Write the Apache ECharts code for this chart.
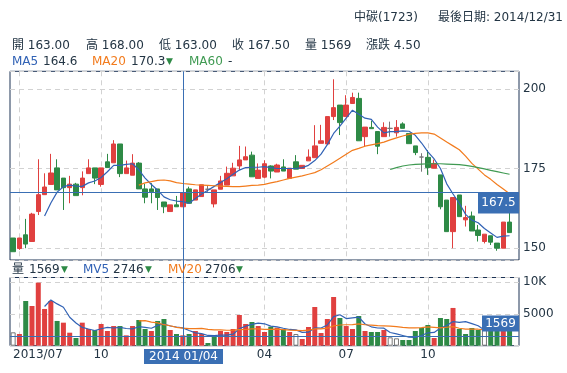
<!DOCTYPE html>
<html><head><meta charset="utf-8">
<script src="https://cdn.jsdelivr.net/npm/echarts@6/dist/echarts.min.js"></script>
<style>html,body{margin:0;padding:0;background:#fff}#c{width:567px;height:373px}</style>
</head><body><div id="c"></div>
<script>
// ---- data (weekly) ----
const dates = ['2013/06/29','2013/07/06','2013/07/13','2013/07/20','2013/07/27','2013/08/03','2013/08/10','2013/08/17','2013/08/24','2013/08/31',
'2013/09/07','2013/09/14','2013/09/21','2013/09/28','2013/10/05','2013/10/12','2013/10/19','2013/10/26','2013/11/02','2013/11/09',
'2013/11/16','2013/11/23','2013/11/30','2013/12/07','2013/12/14','2013/12/21','2013/12/28','2014/01/04','2014/01/11','2014/01/18',
'2014/01/25','2014/02/01','2014/02/08','2014/02/15','2014/02/22','2014/03/01','2014/03/08','2014/03/15','2014/03/22','2014/03/29',
'2014/04/05','2014/04/12','2014/04/19','2014/04/26','2014/05/03','2014/05/10','2014/05/17','2014/05/24','2014/05/31','2014/06/07',
'2014/06/14','2014/06/21','2014/06/28','2014/07/05','2014/07/12','2014/07/19','2014/07/26','2014/08/02','2014/08/09','2014/08/16',
'2014/08/23','2014/08/30','2014/09/06','2014/09/13','2014/09/20','2014/09/27','2014/10/04','2014/10/11','2014/10/18','2014/10/25',
'2014/11/01','2014/11/08','2014/11/15','2014/11/22','2014/11/29','2014/12/06','2014/12/13','2014/12/20','2014/12/27','2014/12/31','2015/01/10'];

const opens  = [153.2,149.9,154.2,152.1,161.5,166.8,170.0,175.2,172.0,169.0,170.1,169.0,173.4,175.2,170.0,177.1,176.8,182.7,173.4,172.9,
176.7,168.6,168.6,168.6,164.5,161.5,163.6,163.0,168.6,165.1,166.2,168.5,163.9,168.5,169.8,172.7,175.8,177.7,179.2,171.9,
172.3,175.8,173.9,175.5,171.9,177.1,175.0,177.4,178.4,182.9,182.7,191.3,194.9,191.3,195.4,197.0,185.0,187.9,186.6,185.0,
187.6,186.2,189.0,186.0,182.1,178.6,178.5,175.1,173.0,165.1,155.2,166.7,158.9,160.1,155.7,152.1,153.9,151.6,150.0,158.2];
const closes = [148.9,153.2,151.3,160.7,166.8,169.2,173.6,168.3,169.0,170.1,166.5,172.0,175.2,172.0,175.2,175.3,182.7,173.4,175.2,176.7,
168.6,166.0,167.7,165.9,163.0,163.6,163.0,167.4,164.1,168.3,169.9,168.5,168.3,171.1,173.5,175.1,177.7,178.7,172.4,174.5,
176.5,174.2,176.1,174.2,175.1,174.8,176.0,178.6,182.1,183.7,191.3,194.1,189.4,194.9,197.3,183.7,188.0,187.5,182.0,187.9,
187.6,187.9,187.6,182.8,180.0,178.6,175.3,176.6,163.0,155.2,165.9,159.9,159.6,155.4,154.0,154.4,151.9,150.0,158.2,154.9];
const lows   = [148.9,149.5,150.0,152.0,160.4,166.7,170.0,168.3,162.0,164.1,166.5,166.6,173.4,170.1,169.3,175.3,176.8,172.3,173.4,172.9,
168.6,164.1,164.1,162.0,161.0,161.5,163.0,163.0,164.1,165.1,166.2,167.7,162.8,168.5,169.8,172.7,174.5,177.7,172.4,171.9,
171.9,171.9,173.9,174.2,171.9,174.8,175.0,177.4,178.4,182.9,182.7,190.2,185.5,191.3,195.4,183.7,181.8,187.5,179.5,185.0,
185.0,185.0,187.6,182.8,179.2,174.0,173.0,175.1,162.2,155.2,150.0,159.9,156.8,155.4,152.1,151.5,151.0,149.2,150.0,154.9];
const highs  = [153.2,153.2,159.2,161.1,177.9,173.5,179.6,177.9,172.0,172.7,170.5,174.1,177.9,175.2,175.2,179.6,183.9,182.7,177.5,179.5,
177.0,170.2,170.4,168.6,164.5,163.6,166.4,167.4,169.3,168.3,169.9,169.5,168.3,172.7,175.6,176.8,182.1,181.9,180.3,176.6,
177.6,176.0,176.5,177.9,175.1,179.2,176.0,181.0,188.6,188.7,191.3,203.0,194.9,198.0,198.8,198.8,188.0,190.0,186.6,189.5,
189.7,190.2,189.5,186.0,182.1,179.8,180.8,177.8,173.0,165.1,165.9,166.7,163.3,161.5,157.3,154.4,153.9,151.6,158.2,161.2];

const volumes = [2110,1845,7050,6260,9940,5790,7050,3900,3630,2050,1215,3630,2630,2475,3420,2320,3100,3100,1630,3100,
4050,2630,2320,3900,4210,2475,1845,1630,1845,2320,1845,425,1530,2320,2160,2630,4840,3420,3740,3100,
2160,3000,2840,2630,2160,1845,1055,2950,6100,2000,4210,7680,4370,3100,2630,4680,2320,2160,2160,2475,
1320,1160,900,900,2320,2790,3260,1215,4370,4210,5950,2630,1845,2790,2475,2600,2800,3000,3300,2700];
// u = up (red), d = down (green), n = unchanged (hollow)
const volDir = ['n','u','d','u','u','u','u','d','u','u','d','u','u','d','u','u','u','d','u','u',
'd','d','u','d','d','u','d','u','d','u','u','d','d','u','u','u','u','u','d','u',
'u','d','u','d','u','n','u','u','u','u','u','u','d','u','u','d','u','d','d','u',
'n','n','d','d','d','d','d','u','d','d','u','d','d','d','d','n','d','d','u','d'];

const ma5 = [null,null,null,null,null,160.1,164.2,167.6,169.3,169.8,169.5,169.4,170.5,171.1,172.2,174.0,176.0,176.0,176.3,176.5,
174.6,172.0,170.0,168.2,166.1,165.2,164.8,164.6,164.1,165.6,167.0,168.2,169.4,170.6,171.8,173.2,174.5,175.3,175.4,175.4,
175.6,175.3,175.0,175.0,175.0,175.0,175.3,176.0,177.5,179.5,182.5,186.0,188.3,190.8,193.3,192.0,190.8,190.4,188.0,186.2,
186.6,186.6,186.8,186.7,185.4,183.0,180.2,178.0,175.0,170.2,167.0,164.1,160.6,158.8,158.0,156.2,154.8,153.4,153.8,153.9];
const ma20 = [null,null,null,null,null,null,null,null,null,null,null,null,null,null,null,null,null,null,null,null,
169.8,170.5,170.9,171.3,171.4,171.1,170.6,170.3,170.1,169.9,169.8,169.7,169.6,169.5,169.4,169.3,169.3,169.5,169.7,169.8,
170.0,170.5,170.9,171.4,171.9,172.3,172.7,173.2,173.7,174.6,175.8,177.0,178.2,179.5,180.7,181.3,182.0,182.4,182.8,183.3,
184.0,184.6,185.2,185.7,186.0,186.2,186.2,185.8,184.6,183.3,182.1,180.9,178.9,176.6,174.8,173.0,171.6,170.0,168.6,167.1];
const ma60 = [null,null,null,null,null,null,null,null,null,null,null,null,null,null,null,null,null,null,null,null,
null,null,null,null,null,null,null,null,null,null,null,null,null,null,null,null,null,null,null,null,
null,null,null,null,null,null,null,null,null,null,null,null,null,null,null,null,null,null,null,null,
174.7,175.3,175.8,176.1,176.3,176.4,176.5,176.5,176.5,176.4,176.3,176.2,176.0,175.7,175.3,174.9,174.4,174.0,173.6,173.2];
const mv5 = [null,null,null,null,null,6177,7218,6588,6062,4484,3569,2885,2631,2400,2674,2895,2789,2883,2714,2650,
2996,2902,2746,3200,3422,3107,2950,2812,2401,2023,1897,1613,1593,1688,1656,1813,2696,3074,3358,3546,
3452,3084,2968,2746,2558,2495,2106,2128,2822,2790,3263,4588,4872,4272,4398,4492,3420,2978,2790,2759,
2087,1855,1603,1351,1320,1614,2034,2097,2791,3169,3801,3675,3801,3485,3138,2468,2502,2733,2835,2880];
const mv20 = [null,null,null,null,null,null,null,null,null,null,null,null,null,null,null,null,null,null,null,null,
3909,3949,3712,3594,3308,3142,2882,2768,2679,2692,2724,2564,2509,2501,2438,2453,2540,2556,2662,2662,
2567,2586,2612,2548,2446,2414,2375,2441,2654,2638,2756,3119,3261,3300,3323,3426,3300,3237,3158,3126,
3084,2992,2895,2809,2817,2864,2974,2888,2801,2912,2999,2746,2620,2604,2597,2493,2517,2559,2616,2627];

const tickIdx  = [1, 14, 27, 40, 53, 66];
const tickText = ['2013/07', '10', '01', '04', '07', '10'];
const crossIdx = 27, crossPrice = 167.5, crossVol = 1569, crossDateText = '2014 01/04';

// ---- style ----
const FONT = '"DejaVu Sans","Noto Sans CJK TC",sans-serif';
const TXT = '#233544', RED = '#e0403f', GREEN = '#2e8a46', GRAY = '#777777';
const BLUE = '#3162b5', ORANGE = '#f27b1d', MGREEN = '#3f9a52', XBLUE = '#3a6fb4';
const BORDER = '#1c3355', GRID = '#d2d2d2';
const G0 = {left: 10, top: 71.3, width: 509, height: 188.7};
const G1 = {left: 10, top: 277.5, width: 509, height: 68.2};

const candles = opens.map((o, i) => [o, closes[i], lows[i], highs[i]]);
const volData = volumes.map((v, i) => ({
  value: v,
  itemStyle: volDir[i] === 'u' ? {color: RED} : volDir[i] === 'd' ? {color: GREEN}
           : {color: '#ffffff', borderColor: GRAY, borderWidth: 1}
}));

const isTick = (i) => tickIdx.indexOf(i) >= 0;
const dash = {color: GRID, type: [5, 4], width: 1};

const chart = echarts.init(document.getElementById('c'));
const option = {
  animation: false,
  backgroundColor: '#ffffff',
  textStyle: {fontFamily: FONT},
  grid: [
    Object.assign({show: true, borderColor: BORDER, borderWidth: 1, backgroundColor: 'transparent'}, G0),
    Object.assign({show: true, borderColor: BORDER, borderWidth: 1, backgroundColor: 'transparent'}, G1)
  ],
  xAxis: [
    {gridIndex: 0, type: 'category', data: dates, boundaryGap: true,
     axisLine: {show: false}, axisTick: {show: false}, axisLabel: {show: false},
     splitLine: {show: true, interval: isTick, alignWithLabel: true, lineStyle: dash}},
    {gridIndex: 1, type: 'category', data: dates, boundaryGap: true,
     axisLine: {show: false}, axisTick: {show: false},
     axisLabel: {show: true, interval: isTick, color: TXT, fontSize: 12, fontFamily: FONT, margin: 3,
       formatter: (v, i) => {
         const k = tickIdx.indexOf(i);
         if (k < 0) return '';
         return k === 0 ? '{a|' + tickText[k] + '}' : tickText[k];
       },
       rich: {a: {color: TXT, fontSize: 12, fontFamily: FONT, padding: [0, 0, 0, 37]}}},
     splitLine: {show: true, interval: isTick, alignWithLabel: true, lineStyle: dash}}
  ],
  yAxis: [
    {gridIndex: 0, type: 'value', position: 'right', min: 146.3, max: 205.5, minInterval: 25, maxInterval: 25,
     axisLine: {show: false}, axisTick: {show: false},
     axisLabel: {color: TXT, fontSize: 12, fontFamily: FONT, margin: 4, showMinLabel: false, showMaxLabel: false,
       formatter: v => (Math.abs(v % 25) < 1e-6 ? String(v) : '')},
     splitLine: {show: true, lineStyle: dash}},
    {gridIndex: 1, type: 'value', position: 'right', min: 0, max: 10750, minInterval: 5000, maxInterval: 5000,
     axisLine: {show: false}, axisTick: {show: false},
     axisLabel: {color: TXT, fontSize: 12, fontFamily: FONT, margin: 4, showMinLabel: false, showMaxLabel: false,
       formatter: v => (v === 10000 ? '10K' : v === 5000 ? '5000' : '')},
     splitLine: {show: true, lineStyle: dash}}
  ],
  series: [
    {type: 'candlestick', xAxisIndex: 0, yAxisIndex: 0, data: candles, barWidth: 5,
     itemStyle: {color: RED, color0: GREEN, borderColor: RED, borderColor0: GREEN, borderColorDoji: GRAY, borderWidth: 1}},
    {type: 'line', xAxisIndex: 0, yAxisIndex: 0, data: ma5, symbol: 'none', lineStyle: {color: BLUE, width: 1.2}, z: 3},
    {type: 'line', xAxisIndex: 0, yAxisIndex: 0, data: ma20, symbol: 'none', lineStyle: {color: ORANGE, width: 1.2}, z: 3},
    {type: 'line', xAxisIndex: 0, yAxisIndex: 0, data: ma60, symbol: 'none', lineStyle: {color: MGREEN, width: 1.2}, z: 3},
    {type: 'bar', xAxisIndex: 1, yAxisIndex: 1, data: volData, barWidth: 5},
    {type: 'line', xAxisIndex: 1, yAxisIndex: 1, data: mv5, symbol: 'none', lineStyle: {color: BLUE, width: 1.2}, z: 3},
    {type: 'line', xAxisIndex: 1, yAxisIndex: 1, data: mv20, symbol: 'none', lineStyle: {color: ORANGE, width: 1.2}, z: 3}
  ]
};
chart.setOption(option);

// ---- header / legend texts + crosshair ----
function t(text, x, y, fill, size, align) {
  return {type: 'text', z: 100, style: {text: text, x: x, y: y, fill: fill || TXT,
    font: (size || 12) + 'px ' + FONT, align: align || 'left', verticalAlign: 'middle'}};
}
const px = chart.convertToPixel({gridIndex: 0}, [dates[crossIdx], crossPrice]);
const pv = chart.convertToPixel({gridIndex: 1}, [dates[crossIdx], crossVol]);
const cx = Math.round(px[0]) + 0.5, cy = Math.round(px[1]) + 0.5, vy = Math.round(pv[1]) + 0.5;
const R0 = G0.left + G0.width;
const els = [
  t('中碳(1723)', 354, 18), t('最後日期: 2014/12/31', 563, 18, TXT, 12, 'right'),
  t('開 163.00', 12, 46), t('高 168.00', 86, 46), t('低 163.00', 159, 46),
  t('收 167.50', 232, 46), t('量 1569', 305, 46), t('漲跌 4.50', 366, 46),
  t('MA5', 12, 62, BLUE), t('164.6', 43, 62), t('MA20', 92, 62, ORANGE), t('170.3', 131, 62),
  t('▼', 166, 62, GREEN, 9), t('MA60', 189, 62, MGREEN), t('-', 228, 62),
  t('量', 12, 270), t('1569', 29, 270), t('▼', 61, 270, GREEN, 9),
  t('MV5', 83, 270, BLUE), t('2746', 113, 270), t('▼', 145, 270, GREEN, 9),
  t('MV20', 168, 270, ORANGE), t('2706', 205, 270), t('▼', 236, 270, GREEN, 9),
  {type: 'line', z: 90, shape: {x1: cx, y1: G0.top, x2: cx, y2: G1.top + G1.height}, style: {stroke: XBLUE, lineWidth: 1}},
  {type: 'line', z: 90, shape: {x1: G0.left, y1: cy, x2: R0, y2: cy}, style: {stroke: XBLUE, lineWidth: 1}},
  {type: 'line', z: 90, shape: {x1: G1.left, y1: vy, x2: R0, y2: vy}, style: {stroke: XBLUE, lineWidth: 1}},
  {type: 'rect', z: 95, shape: {x: R0 - 41, y: cy, width: 41, height: 21}, style: {fill: XBLUE}},
  {type: 'text', z: 96, style: {text: String(crossPrice), x: R0 - 20.5, y: cy + 10.5, fill: '#fff', font: '12px ' + FONT, align: 'center', verticalAlign: 'middle'}},
  {type: 'rect', z: 95, shape: {x: R0 - 37, y: vy - 21, width: 37, height: 16}, style: {fill: XBLUE}},
  {type: 'text', z: 96, style: {text: String(crossVol), x: R0 - 18.5, y: vy - 13, fill: '#fff', font: '12px ' + FONT, align: 'center', verticalAlign: 'middle'}},
  {type: 'rect', z: 95, shape: {x: cx - 39.5, y: 349, width: 79, height: 15}, style: {fill: XBLUE}},
  {type: 'text', z: 96, style: {text: crossDateText, x: cx, y: 356.5, fill: '#fff', font: '12px ' + FONT, align: 'center', verticalAlign: 'middle'}}
];
chart.setOption({graphic: els});
</script></body></html>
